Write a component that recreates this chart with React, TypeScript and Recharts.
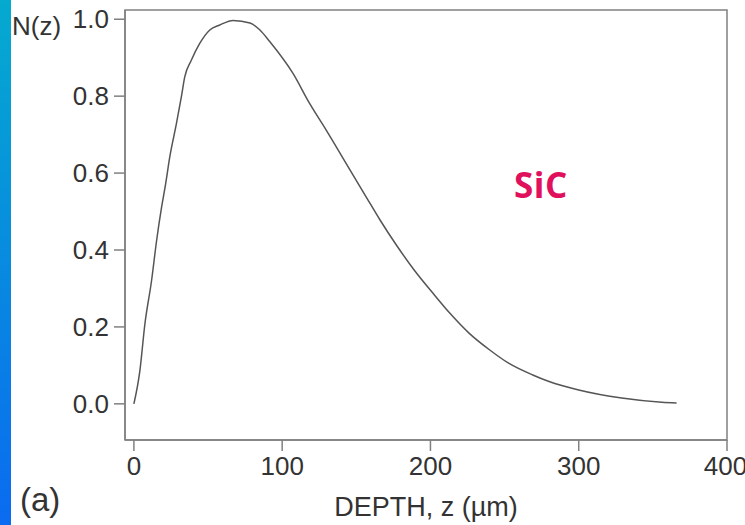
import { LineChart, Line, XAxis, YAxis, ReferenceArea } from "recharts";

// depth z in µm, normalised N(z)
const depth = [
  0, 4, 7.4, 11.9, 15.3, 18.7, 21.4, 24.2, 28.7, 32, 34.3, 38.8, 44.4, 51.2,
  57.9, 66.9, 78.3, 85, 91.6, 107.3, 118.5, 129.8, 143.3, 156.8, 166, 177, 189,
  201.6, 213, 226, 240, 253, 269, 280, 300, 329, 356, 366,
];
const nz = [
  0, 0.085, 0.207, 0.32, 0.424, 0.512, 0.572, 0.642, 0.729, 0.798, 0.85, 0.894,
  0.937, 0.972, 0.985, 0.997, 0.99, 0.972, 0.942, 0.859, 0.781, 0.711, 0.624,
  0.537, 0.478, 0.413, 0.348, 0.288, 0.236, 0.184, 0.14, 0.105, 0.075, 0.058,
  0.036, 0.015, 0.004, 0.002,
];
const xTicks = [0, 100, 200, 300, 400];
const yTicks = [0, 0.2, 0.4, 0.6, 0.8, 1.0];

const data = depth.map((z, i) => ({ z, n: nz[i] }));

const AXIS = "#808080";
const TXT = "#333";
const FONT = "'Liberation Sans', Arial, sans-serif";

export default function App() {
  return (
    <div
      style={{
        position: "fixed",
        left: 0,
        top: 0,
        width: 745,
        height: 525,
        background: "#fff",
        fontFamily: FONT,
      }}
    >
      <div
        style={{
          position: "absolute",
          left: 0,
          top: 0,
          width: 11,
          height: 525,
          background: "linear-gradient(#05aacf, #0a6bf0)",
        }}
      />
      <LineChart
        width={745}
        height={525}
        data={data}
        margin={{ top: 10, right: 18, left: 65, bottom: 35 }}
      >
        <XAxis
          dataKey="z"
          type="number"
          domain={[-6, 400]}
          ticks={xTicks}
          allowDataOverflow
          height={50}
          stroke={AXIS}
          strokeWidth={1.5}
          tickSize={11}
          tickMargin={6}
          tick={{ fill: TXT, fontSize: 26, fontFamily: FONT }}
        />
        <YAxis
          type="number"
          domain={[-0.094, 1.024]}
          ticks={yTicks}
          allowDataOverflow
          width={60}
          stroke={AXIS}
          strokeWidth={1.5}
          tickSize={11}
          tickMargin={5}
          tickFormatter={(v: number) => v.toFixed(1)}
          tick={{ fill: TXT, fontSize: 26, fontFamily: FONT }}
        />
        <ReferenceArea
          x1={-6}
          x2={400}
          y1={-0.094}
          y2={1.024}
          fill="none"
          stroke={AXIS}
          strokeWidth={1.5}
        />
        <Line
          dataKey="n"
          type="monotone"
          stroke="#555"
          strokeWidth={1.5}
          dot={false}
          isAnimationActive={false}
        />
      </LineChart>
      <div
        style={{
          position: "absolute",
          left: 12,
          top: 9,
          fontSize: 26,
          color: TXT,
          lineHeight: "34px",
        }}
      >
        N(z)
      </div>
      <div
        style={{
          position: "absolute",
          left: 20,
          top: 480,
          fontSize: 33,
          color: TXT,
          lineHeight: "40px",
        }}
      >
        (a)
      </div>
      <div
        style={{
          position: "absolute",
          left: 326,
          top: 490,
          width: 200,
          textAlign: "center",
          fontSize: 27,
          color: TXT,
          lineHeight: "34px",
          whiteSpace: "nowrap",
        }}
      >
        DEPTH, z (µm)
      </div>
      <div
        style={{
          position: "absolute",
          left: 514,
          top: 163,
          fontSize: 35,
          letterSpacing: 0.5,
          fontWeight: 700,
          color: "#e0105c",
          fontFamily: "'Open Sans', sans-serif",
          lineHeight: "44px",
        }}
      >
        SiC
      </div>
    </div>
  );
}
